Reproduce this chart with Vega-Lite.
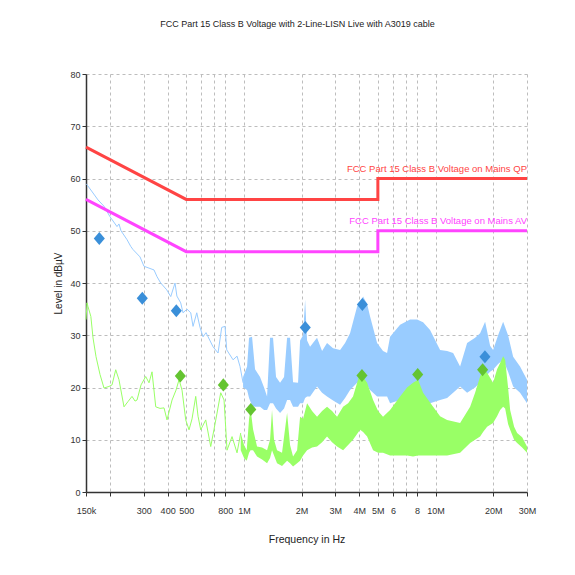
{
  "$schema": "https://vega.github.io/schema/vega-lite/v6.json",
  "width": 441,
  "height": 418,
  "autosize": {"type": "none"},
  "padding": {"left": 86, "top": 74, "right": 48, "bottom": 83},
  "background": "white",
  "title": {
    "text": "FCC Part 15 Class B Voltage with 2-Line-LISN Live with A3019 cable",
    "fontSize": 9, "font": "Liberation Sans", "fontWeight": "normal",
    "color": "#222222", "anchor": "middle", "offset": 41, "dx": -9
  },
  "config": {
    "view": {"stroke": null},
    "font": "Liberation Sans"
  },
  "datasets": {
    "blueLine": [
      {"f": 0.15, "db": 59.0}, {"f": 0.1518, "db": 58.8}, {"f": 0.159, "db": 57.8}, {"f": 0.1733, "db": 55.9},
      {"f": 0.1862, "db": 54.7}, {"f": 0.2, "db": 52.7}, {"f": 0.2177, "db": 50.8}, {"f": 0.2229, "db": 51.3},
      {"f": 0.2284, "db": 50.0}, {"f": 0.2455, "db": 48.3}, {"f": 0.2568, "db": 47.0}, {"f": 0.2639, "db": 46.4},
      {"f": 0.287, "db": 45.0}, {"f": 0.3011, "db": 43.2}, {"f": 0.3396, "db": 42.5}, {"f": 0.3522, "db": 41.2},
      {"f": 0.368, "db": 40.0}, {"f": 0.3956, "db": 38.7}, {"f": 0.4152, "db": 37.4}, {"f": 0.4371, "db": 40.0},
      {"f": 0.447, "db": 37.5}, {"f": 0.468, "db": 36.2}, {"f": 0.481, "db": 34.3}, {"f": 0.505, "db": 35.0},
      {"f": 0.528, "db": 34.3}, {"f": 0.5427, "db": 31.7}, {"f": 0.5675, "db": 34.3}, {"f": 0.5904, "db": 31.5},
      {"f": 0.612, "db": 29.7}, {"f": 0.6344, "db": 30.5}, {"f": 0.69, "db": 27.8}, {"f": 0.733, "db": 26.6},
      {"f": 0.766, "db": 31.5}, {"f": 0.797, "db": 31.7}, {"f": 0.8136, "db": 27.2}, {"f": 0.878, "db": 25.3},
      {"f": 0.921, "db": 26.0}, {"f": 0.9546, "db": 24.0}, {"f": 0.99, "db": 20.9}
    ],
    "blueBand": [
      {"f": 0.99, "lo": 20.0, "hi": 22.0}, {"f": 1.039, "lo": 19.5, "hi": 24.0}, {"f": 1.0637, "lo": 18.0, "hi": 29.5},
      {"f": 1.1028, "lo": 16.5, "hi": 29.7}, {"f": 1.1432, "lo": 16.3, "hi": 23.5}, {"f": 1.214, "lo": 16.3, "hi": 22.0},
      {"f": 1.2738, "lo": 15.7, "hi": 20.0}, {"f": 1.321, "lo": 15.7, "hi": 18.3}, {"f": 1.369, "lo": 17.0, "hi": 29.5},
      {"f": 1.419, "lo": 17.0, "hi": 29.5}, {"f": 1.4713, "lo": 16.0, "hi": 22.0}, {"f": 1.544, "lo": 15.1, "hi": 20.9},
      {"f": 1.62, "lo": 16.0, "hi": 22.0}, {"f": 1.68, "lo": 17.6, "hi": 29.5}, {"f": 1.741, "lo": 17.6, "hi": 29.5},
      {"f": 1.805, "lo": 16.3, "hi": 21.0}, {"f": 1.917, "lo": 16.3, "hi": 20.9}, {"f": 1.964, "lo": 17.0, "hi": 29.0},
      {"f": 2.036, "lo": 17.0, "hi": 30.0}, {"f": 2.086, "lo": 18.0, "hi": 36.8}, {"f": 2.136, "lo": 18.3, "hi": 29.0},
      {"f": 2.214, "lo": 18.3, "hi": 27.8}, {"f": 2.408, "lo": 20.2, "hi": 29.5}, {"f": 2.558, "lo": 19.0, "hi": 27.0},
      {"f": 2.715, "lo": 18.3, "hi": 28.5}, {"f": 2.919, "lo": 17.5, "hi": 27.5}, {"f": 3.176, "lo": 16.7, "hi": 27.2},
      {"f": 3.372, "lo": 18.0, "hi": 28.5}, {"f": 3.58, "lo": 19.5, "hi": 30.4}, {"f": 3.896, "lo": 20.9, "hi": 35.5},
      {"f": 4.187, "lo": 21.5, "hi": 37.4}, {"f": 4.394, "lo": 20.5, "hi": 36.0}, {"f": 4.554, "lo": 19.5, "hi": 33.6},
      {"f": 4.955, "lo": 18.3, "hi": 28.5}, {"f": 5.32, "lo": 18.3, "hi": 27.0}, {"f": 5.586, "lo": 18.3, "hi": 26.6},
      {"f": 5.79, "lo": 17.0, "hi": 29.7}, {"f": 6.53, "lo": 17.6, "hi": 32.0}, {"f": 7.36, "lo": 18.0, "hi": 33.0},
      {"f": 8.01, "lo": 18.3, "hi": 33.0}, {"f": 8.61, "lo": 18.0, "hi": 32.5}, {"f": 9.36, "lo": 17.0, "hi": 31.0},
      {"f": 10.56, "lo": 17.6, "hi": 27.2}, {"f": 11.49, "lo": 18.0, "hi": 27.0}, {"f": 12.35, "lo": 19.0, "hi": 26.6},
      {"f": 13.43, "lo": 20.2, "hi": 24.0}, {"f": 14.61, "lo": 19.0, "hi": 28.5}, {"f": 16.08, "lo": 20.0, "hi": 29.5},
      {"f": 17.08, "lo": 20.9, "hi": 30.4}, {"f": 18.14, "lo": 22.0, "hi": 32.6}, {"f": 19.26, "lo": 23.0, "hi": 28.0},
      {"f": 19.96, "lo": 23.4, "hi": 27.2}, {"f": 21.2, "lo": 24.5, "hi": 30.0}, {"f": 22.52, "lo": 25.3, "hi": 32.6},
      {"f": 23.9, "lo": 23.0, "hi": 30.0}, {"f": 25.4, "lo": 20.2, "hi": 25.9}, {"f": 27.6, "lo": 19.0, "hi": 24.0},
      {"f": 30.0, "lo": 17.0, "hi": 21.5}
    ],
    "greenLine": [
      {"f": 0.15, "db": 33.0}, {"f": 0.1518, "db": 36.2}, {"f": 0.1536, "db": 35.5}, {"f": 0.159, "db": 33.6},
      {"f": 0.1632, "db": 29.5}, {"f": 0.1692, "db": 25.9}, {"f": 0.1775, "db": 22.5}, {"f": 0.1862, "db": 19.9},
      {"f": 0.1977, "db": 20.2}, {"f": 0.2051, "db": 20.5}, {"f": 0.2144, "db": 23.4}, {"f": 0.2229, "db": 21.5},
      {"f": 0.2368, "db": 16.3}, {"f": 0.2484, "db": 17.3}, {"f": 0.2607, "db": 18.3}, {"f": 0.2703, "db": 17.4},
      {"f": 0.2769, "db": 17.6}, {"f": 0.2906, "db": 20.5}, {"f": 0.3073, "db": 22.1}, {"f": 0.3198, "db": 20.9},
      {"f": 0.3316, "db": 23.0}, {"f": 0.3467, "db": 16.3}, {"f": 0.365, "db": 16.0}, {"f": 0.383, "db": 16.1},
      {"f": 0.397, "db": 13.8}, {"f": 0.4218, "db": 17.6}, {"f": 0.4424, "db": 19.5}, {"f": 0.4588, "db": 21.5},
      {"f": 0.4755, "db": 19.5}, {"f": 0.4971, "db": 13.8}, {"f": 0.5173, "db": 11.9}, {"f": 0.5363, "db": 14.0},
      {"f": 0.5605, "db": 18.3}, {"f": 0.5763, "db": 14.5}, {"f": 0.5953, "db": 11.9}, {"f": 0.6321, "db": 13.8},
      {"f": 0.6713, "db": 8.7}, {"f": 0.6984, "db": 12.0}, {"f": 0.7242, "db": 15.1}, {"f": 0.757, "db": 19.0},
      {"f": 0.7878, "db": 17.6}, {"f": 0.8166, "db": 8.0}, {"f": 0.8671, "db": 10.6}, {"f": 0.9208, "db": 7.5},
      {"f": 0.9626, "db": 11.3}
    ],
    "greenBand": [
      {"f": 0.9626, "lo": 8.0, "hi": 11.3}, {"f": 1.0015, "lo": 6.5, "hi": 9.0}, {"f": 1.0345, "lo": 6.0, "hi": 8.0},
      {"f": 1.064, "lo": 7.5, "hi": 14.0}, {"f": 1.083, "lo": 8.0, "hi": 16.0}, {"f": 1.116, "lo": 8.0, "hi": 12.0},
      {"f": 1.171, "lo": 6.8, "hi": 8.7}, {"f": 1.244, "lo": 6.2, "hi": 8.5}, {"f": 1.321, "lo": 5.5, "hi": 8.0},
      {"f": 1.369, "lo": 6.5, "hi": 10.0}, {"f": 1.402, "lo": 8.0, "hi": 15.7}, {"f": 1.4365, "lo": 7.0, "hi": 10.0},
      {"f": 1.489, "lo": 5.5, "hi": 8.0}, {"f": 1.581, "lo": 5.0, "hi": 7.5}, {"f": 1.68, "lo": 6.0, "hi": 15.1},
      {"f": 1.741, "lo": 5.5, "hi": 9.0}, {"f": 1.805, "lo": 4.9, "hi": 6.8}, {"f": 1.895, "lo": 5.5, "hi": 8.0},
      {"f": 1.964, "lo": 6.0, "hi": 14.4}, {"f": 2.036, "lo": 7.0, "hi": 14.0}, {"f": 2.136, "lo": 8.0, "hi": 17.0},
      {"f": 2.268, "lo": 8.5, "hi": 15.5}, {"f": 2.408, "lo": 8.7, "hi": 14.4}, {"f": 2.558, "lo": 9.5, "hi": 15.5},
      {"f": 2.715, "lo": 10.6, "hi": 16.3}, {"f": 2.884, "lo": 9.5, "hi": 15.5}, {"f": 3.063, "lo": 8.7, "hi": 14.4},
      {"f": 3.293, "lo": 8.0, "hi": 16.3}, {"f": 3.497, "lo": 9.0, "hi": 17.0}, {"f": 3.71, "lo": 10.0, "hi": 18.3},
      {"f": 4.038, "lo": 11.9, "hi": 22.8}, {"f": 4.187, "lo": 11.5, "hi": 22.0}, {"f": 4.394, "lo": 10.6, "hi": 20.9},
      {"f": 4.722, "lo": 8.0, "hi": 17.6}, {"f": 5.013, "lo": 7.5, "hi": 15.5}, {"f": 5.32, "lo": 7.5, "hi": 14.4},
      {"f": 5.79, "lo": 7.0, "hi": 15.7}, {"f": 6.53, "lo": 7.0, "hi": 18.3}, {"f": 7.1, "lo": 7.0, "hi": 20.0},
      {"f": 7.63, "lo": 6.8, "hi": 20.9}, {"f": 8.11, "lo": 7.0, "hi": 21.5}, {"f": 8.61, "lo": 7.0, "hi": 19.0},
      {"f": 9.71, "lo": 7.0, "hi": 16.3}, {"f": 10.56, "lo": 7.0, "hi": 14.5}, {"f": 11.49, "lo": 7.0, "hi": 13.8},
      {"f": 13.43, "lo": 7.5, "hi": 13.2}, {"f": 15.15, "lo": 9.4, "hi": 16.3}, {"f": 16.08, "lo": 10.0, "hi": 19.0},
      {"f": 17.08, "lo": 10.6, "hi": 22.1}, {"f": 17.7, "lo": 11.5, "hi": 23.5}, {"f": 18.58, "lo": 12.5, "hi": 22.8},
      {"f": 19.96, "lo": 13.2, "hi": 20.9}, {"f": 20.94, "lo": 14.5, "hi": 23.5}, {"f": 21.72, "lo": 15.7, "hi": 24.7},
      {"f": 22.52, "lo": 16.3, "hi": 26.0}, {"f": 23.07, "lo": 16.0, "hi": 25.3}, {"f": 23.9, "lo": 13.0, "hi": 20.0},
      {"f": 24.5, "lo": 11.9, "hi": 15.7}, {"f": 25.7, "lo": 10.0, "hi": 12.5}, {"f": 26.64, "lo": 9.4, "hi": 11.3},
      {"f": 28.3, "lo": 8.5, "hi": 10.5}, {"f": 30.0, "lo": 7.5, "hi": 8.7}
    ],
    "limits": [
      {"limit": "QP", "i": 0, "f": 0.15, "db": 66}, {"limit": "QP", "i": 1, "f": 0.5, "db": 56},
      {"limit": "QP", "i": 2, "f": 5, "db": 56}, {"limit": "QP", "i": 3, "f": 5, "db": 60},
      {"limit": "QP", "i": 4, "f": 30, "db": 60},
      {"limit": "AV", "i": 0, "f": 0.15, "db": 56}, {"limit": "AV", "i": 1, "f": 0.5, "db": 46},
      {"limit": "AV", "i": 2, "f": 5, "db": 46}, {"limit": "AV", "i": 3, "f": 5, "db": 50},
      {"limit": "AV", "i": 4, "f": 30, "db": 50}
    ],
    "limitLabels": [
      {"limit": "QP", "f": 30, "db": 61.8, "label": "FCC Part 15 Class B Voltage on Mains QP"},
      {"limit": "AV", "f": 30, "db": 51.8, "label": "FCC Part 15 Class B Voltage on Mains AV"}
    ],
    "qp": [
      {"f": 0.176, "db": 48.5}, {"f": 0.295, "db": 37.1}, {"f": 0.444, "db": 34.7},
      {"f": 2.09, "db": 31.5}, {"f": 4.15, "db": 35.9}, {"f": 18.1, "db": 25.9}
    ],
    "av": [
      {"f": 0.466, "db": 22.2}, {"f": 0.781, "db": 20.5}, {"f": 1.086, "db": 15.8},
      {"f": 4.13, "db": 22.3}, {"f": 8.07, "db": 22.5}, {"f": 17.6, "db": 23.4}
    ]
  },
  "layer": [
    {
      "data": {"name": "blueBand"},
      "mark": {"type": "area", "color": "#99ccff", "clip": true},
      "encoding": {
        "x": {
          "field": "f", "type": "quantitative",
          "scale": {"type": "log", "domain": [0.15, 30], "nice": false},
          "axis": {
            "title": "Frequency in Hz",
            "values": [0.15, 0.2, 0.3, 0.4, 0.5, 0.6, 0.7, 0.8, 1, 2, 3, 4, 5, 6, 7, 8, 10, 20, 30],
            "labelExpr": "datum.value == 0.15 ? '150k' : datum.value < 1 ? (indexof([0.3, 0.4, 0.5, 0.8], datum.value) >= 0 ? format(datum.value * 1000, 'd') : '') : (datum.value == 6 || datum.value == 8) ? format(datum.value, 'd') : datum.value == 7 ? '' : format(datum.value, 'd') + 'M'",
            "labelOverlap": false, "labelFlush": false,
            "grid": true, "gridDash": [3, 3], "gridColor": "#bdbdbd",
            "domainColor": "#333333", "domainWidth": 1.5,
            "tickColor": "#333333", "tickSize": 4,
            "labelFontSize": 9, "labelColor": "#333333", "labelPadding": 10,
            "titleFontSize": 10.5, "titleFontWeight": "normal", "titleColor": "#222222", "titlePadding": 19
          }
        },
        "y": {
          "field": "lo", "type": "quantitative",
          "scale": {"domain": [0, 80], "nice": false},
          "axis": {
            "title": "Level in dBµV",
            "values": [0, 5, 10, 15, 20, 25, 30, 35, 40, 45, 50, 55, 60, 65, 70, 75, 80],
            "labelExpr": "datum.value % 10 == 0 ? datum.label : ''",
            "grid": true, "gridDash": [3, 3], "gridColor": "#bdbdbd",
            "domainColor": "#333333", "domainWidth": 1.5,
            "tickColor": "#333333", "tickSize": 4,
            "labelFontSize": 9, "labelColor": "#333333", "labelPadding": 2,
            "titleFontSize": 10, "titleFontWeight": "normal", "titleColor": "#222222", "titlePadding": 6
          }
        },
        "y2": {"field": "hi"}
      }
    },
    {
      "data": {"name": "blueLine"},
      "mark": {"type": "line", "color": "#99ccff", "strokeWidth": 1},
      "encoding": {
        "x": {"field": "f", "type": "quantitative"},
        "y": {"field": "db", "type": "quantitative"}
      }
    },
    {
      "data": {"name": "greenBand"},
      "mark": {"type": "area", "color": "#99ff66"},
      "encoding": {
        "x": {"field": "f", "type": "quantitative"},
        "y": {"field": "lo", "type": "quantitative"},
        "y2": {"field": "hi"}
      }
    },
    {
      "data": {"name": "greenLine"},
      "mark": {"type": "line", "color": "#99ff66", "strokeWidth": 1},
      "encoding": {
        "x": {"field": "f", "type": "quantitative"},
        "y": {"field": "db", "type": "quantitative"}
      }
    },
    {
      "data": {"name": "limits"},
      "mark": {"type": "line", "strokeWidth": 3},
      "encoding": {
        "x": {"field": "f", "type": "quantitative"},
        "y": {"field": "db", "type": "quantitative"},
        "order": {"field": "i"},
        "color": {
          "field": "limit", "type": "nominal",
          "scale": {"domain": ["QP", "AV"], "range": ["#ff4444", "#ff44ff"]},
          "legend": null
        }
      }
    },
    {
      "data": {"name": "limitLabels"},
      "mark": {"type": "text", "align": "right", "baseline": "middle", "fontSize": 9.5, "font": "Liberation Sans"},
      "encoding": {
        "x": {"field": "f", "type": "quantitative"},
        "y": {"field": "db", "type": "quantitative"},
        "text": {"field": "label"},
        "color": {"field": "limit", "type": "nominal", "legend": null}
      }
    },
    {
      "data": {"name": "qp"},
      "mark": {"type": "point", "shape": "M-0.85,0L0,-1L0.85,0L0,1Z", "filled": true, "size": 170, "opacity": 1, "color": "#3a8fd9"},
      "encoding": {
        "x": {"field": "f", "type": "quantitative"},
        "y": {"field": "db", "type": "quantitative"}
      }
    },
    {
      "data": {"name": "av"},
      "mark": {"type": "point", "shape": "M-0.85,0L0,-1L0.85,0L0,1Z", "filled": true, "size": 170, "opacity": 1, "color": "#64c431"},
      "encoding": {
        "x": {"field": "f", "type": "quantitative"},
        "y": {"field": "db", "type": "quantitative"}
      }
    }
  ]
}
